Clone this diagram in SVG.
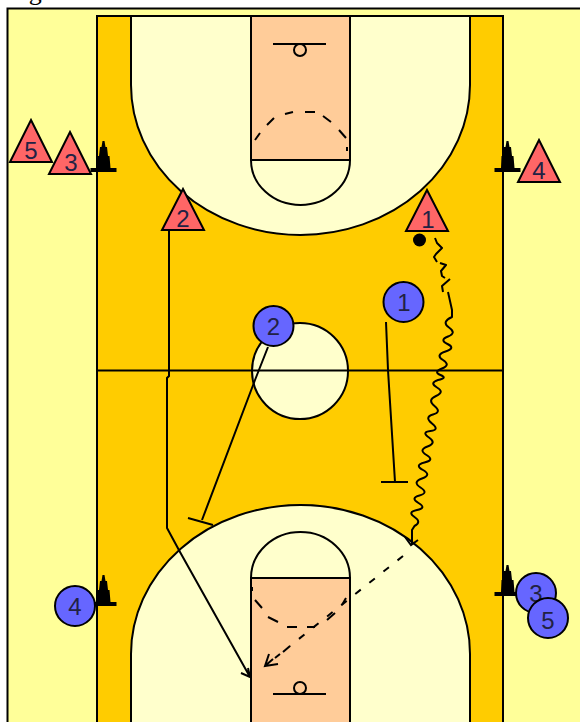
<svg xmlns="http://www.w3.org/2000/svg" width="580" height="722" viewBox="0 0 580 722">
<style>
.l{fill:none;stroke:#000;stroke-width:2}
.c{stroke:#000;stroke-width:2}
.d{fill:none;stroke:#000;stroke-width:2;stroke-dasharray:7 11}
.t{fill:#f66;stroke:#000;stroke-width:2}
.p{fill:#66f;stroke:#000;stroke-width:2}
text{font-family:"Liberation Sans",Arial,sans-serif;font-size:24px;fill:#224;text-anchor:middle}
</style>
<defs>
<path id="cone" d="M-1-30H1L2-24H3.500L4.500-15H6L7-3H13V1H-13V-3H-6.500L-6-15H-4.500L-3.500-24H-2Z" fill="#000"/>
</defs>
<text x="7" y="0" style="font-family:'Liberation Serif',serif;font-size:26px;fill:#000;text-anchor:start">Fig 14</text>
<g id="court">
<rect x="7.500" y="8.500" width="590" height="730" fill="#ff9" stroke="#000" stroke-width="2"/>
<rect x="97" y="16" width="406" height="720" fill="#fc0" stroke="#000" stroke-width="2"/>
<path class="c" fill="#ffc" d="M131 16V85A169.500 150 0 0 0 470 85V16Z"/>
<path class="c" fill="#ffc" d="M131 730V654A169.500 149 0 0 1 470 654V730Z"/>
<rect class="c" x="251" y="16" width="99" height="144" fill="#fc9"/>
<rect class="c" x="251" y="578" width="99" height="152" fill="#fc9"/>
<path class="c" fill="#ffc" d="M251 160A49.500 45 0 0 0 350 160Z"/>
<path class="c" fill="#ffc" d="M251 578A49.500 46 0 0 1 350 578Z"/>
<path class="l" d="M255 140L260 133M267 125L274 118M285 114L293 112M305 112H315M323 116L331 122M339 130L346 138M347 147V151"/>
<path class="l" d="M252 587V591M255 600L262 608M268 617L278 622M287 627H297M307 627H315M327 620L335 613M342 605L346 598"/>
<circle class="c" cx="300" cy="371" r="48" fill="#ffc"/>
<path class="l" d="M97 370.500H503"/>
<path class="l" d="M273 44H326M273 694H326"/>
<circle class="l" cx="300" cy="50" r="6"/>
<circle class="l" cx="300" cy="688" r="6"/>
</g>
<g id="cones">
<use href="#cone" x="103.500" y="171"/>
<use href="#cone" x="507.500" y="171"/>
<use href="#cone" x="103.500" y="605"/>
<use href="#cone" x="507.500" y="595"/>
</g>
<g id="connectors">
<path class="l" d="M169 230V376L167 378V528L180 552L250 677M241 673L250 677L248 668" stroke-width="1.700"/>
<path class="l" d="M386 322L388 370L395 482M381 482H408"/>
<path class="l" d="M268 347L255 380L202 520M188 518L213 525" stroke-width="1.700"/>
<path class="l" stroke-linejoin="round" d="M435 238L437 243L442 248L436 254L434 257L437 262M440 263L446 265L441 271L442 276L445 278M450 279L442 286L443 292M448 292L452 310V317Q441 322 449 327.500Q457 333 448 336.500Q439 340 447.500 344Q456 348 445.500 351.500Q435 355 443 360Q451 365 442 368.500Q433 372 440.500 375Q448 378 438 380Q429 383 437 387.500Q445 392 436 396Q427 400 434.500 406Q442 412 433 414.500Q424 417 432 423.500Q440 430 430.500 431Q421 432 429 437.500Q437 443 427.500 446.500Q418 450 426.500 455Q435 460 424.500 462.500Q414 465 423 470Q432 475 422 478.500Q412 482 420.500 487.500Q429 493 419.500 495.500Q410 498 418.500 503Q427 508 417 510Q407 512 414.500 517Q422 522 414.500 526L412 530V544"/>
<path class="l" d="M405 537L411 545L418 540"/>
<path class="d" d="M403 556L290 646"/>
<path class="l" d="M290 646L283 652M280 654L275 658M273 659L265 666M269 654L265 666L278 664"/>
</g>
<g id="ball"><circle cx="419.500" cy="240" r="6.500" fill="#000"/></g>
<g id="x5"><path class="t" d="M31 120L52 162H10Z"/><text x="31" y="159">5</text></g>
<g id="x3"><path class="t" d="M70 132L91 174H49Z"/><text x="71" y="171">3</text></g>
<g id="x2"><path class="t" d="M183 189L204 230H162Z"/><text x="183" y="227">2</text></g>
<g id="x1"><path class="t" d="M427 190L448 231H406Z"/><text x="428" y="228">1</text></g>
<g id="x4"><path class="t" d="M539 140L560 182H518Z"/><text x="539" y="179">4</text></g>
<g id="o1"><circle class="p" cx="403.500" cy="302" r="20"/><text x="404" y="311">1</text></g>
<g id="o2"><circle class="p" cx="273.500" cy="326" r="20"/><text x="273.500" y="335">2</text></g>
<g id="o4"><circle class="p" cx="75" cy="606" r="20"/><text x="75" y="615">4</text></g>
<g id="o3"><circle class="p" cx="536" cy="593" r="20"/><text x="536" y="602">3</text></g>
<g id="o5"><circle class="p" cx="548" cy="618" r="20"/><text x="548" y="629">5</text></g>
</svg>
